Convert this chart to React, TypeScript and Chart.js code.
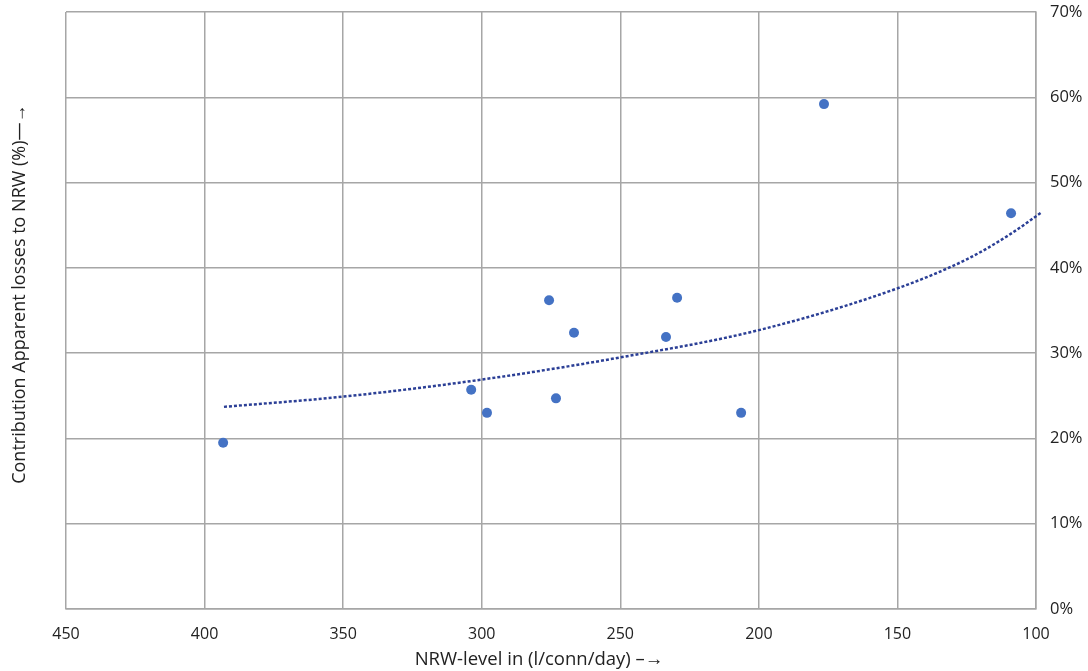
import React, { useEffect, useRef } from "react";
import { Chart, registerables } from "chart.js";

Chart.register(...registerables);

// Observed points: NRW level (l/conn/day) vs contribution of apparent losses (%)
const nrwLevels = [393.3, 303.8, 298.1, 275.7, 273.2, 266.7, 233.5, 229.5, 206.4, 176.5, 109];
const apparentShare = [19.5, 25.7, 23.0, 36.2, 24.7, 32.4, 31.9, 36.5, 23.0, 59.2, 46.4];

// Trend line
const trendX = [393, 350, 300, 250, 200, 150, 125, 110, 98];
const trendY = [23.7, 24.9, 26.9, 29.5, 32.7, 37.6, 41.0, 43.8, 46.5];

const xTicks = [450, 400, 350, 300, 250, 200, 150, 100];
const yTicks = [0, 10, 20, 30, 40, 50, 60, 70];

const xTitle = "NRW-level in (l/conn/day) –→     ";
const yTitle = "       Contribution Apparent losses to NRW (%)—→";

export default function App() {
  const ref = useRef<HTMLCanvasElement | null>(null);

  useEffect(() => {
    if (!ref.current) return;
    const font = "'Open Sans', 'Noto Sans', sans-serif";
    const gridColor = "#a6a6a6";
    const chart = new Chart(ref.current, {
      type: "scatter",
      data: {
        datasets: [
          {
            type: "line",
            label: "Trend",
            data: trendX.map((x, i) => ({ x, y: trendY[i] })),
            borderColor: "#2b3f96",
            borderWidth: 2.5,
            borderDash: [3, 2],
            pointRadius: 0,
            tension: 0.4,
            cubicInterpolationMode: "monotone",
            fill: false,
            clip: 10,
            yAxisID: "y",
          } as any,
          {
            label: "Points",
            data: nrwLevels.map((x, i) => ({ x, y: apparentShare[i] })),
            backgroundColor: "#4472c4",
            borderColor: "#4472c4",
            borderWidth: 0,
            pointRadius: 5,
            yAxisID: "y",
          },
        ],
      },
      options: {
        animation: false,
        responsive: false,
        maintainAspectRatio: false,
        layout: { padding: { top: 12, right: 0, left: 0, bottom: 0 } },
        plugins: {
          legend: { display: false },
          tooltip: { enabled: false },
        },
        scales: {
          x: {
            type: "linear",
            min: 100,
            max: 450,
            reverse: true,
            afterBuildTicks: (s: any) => {
              s.ticks = xTicks.map((v) => ({ value: v }));
            },
            afterFit: (s: any) => {
              s.height = 62;
              s.paddingLeft = 0;
              s.paddingRight = 0;
            },
            grid: {
              color: gridColor,
              lineWidth: 1.5,
              drawTicks: false,
            },
            border: { color: gridColor, width: 1.5 },
            ticks: {
              padding: 16,
              color: "#222",
              font: { family: font, size: 16 },
              maxRotation: 0,
            },
            title: {
              display: true,
              text: xTitle,
              color: "#222",
              font: { family: font, size: 18.5 },
              padding: { top: 0, bottom: 0 },
            },
          },
          y: {
            type: "linear",
            position: "right",
            min: 0,
            max: 70,
            afterBuildTicks: (s: any) => {
              s.ticks = yTicks.map((v) => ({ value: v }));
            },
            afterFit: (s: any) => {
              s.width = 52;
              s.paddingTop = 0;
              s.paddingBottom = 0;
            },
            grid: {
              color: gridColor,
              lineWidth: 1.5,
              drawTicks: false,
            },
            border: { color: gridColor, width: 1.5 },
            ticks: {
              padding: 14,
              color: "#222",
              font: { family: font, size: 16.5 },
              callback: (v: any) => v + "%",
            },
          },
          yLeft: {
            type: "linear",
            position: "left",
            min: 0,
            max: 70,
            afterFit: (s: any) => {
              s.width = 66;
              s.paddingTop = 0;
              s.paddingBottom = 0;
            },
            grid: { display: false, drawTicks: false },
            border: { display: false },
            ticks: { display: false },
            title: {
              display: true,
              text: yTitle,
              color: "#222",
              font: { family: font, size: 18 },
              padding: { top: 9, bottom: 0 },
            },
          },
        },
      },
    });
    return () => chart.destroy();
  }, []);

  return (
    <div style={{ position: "fixed", left: 0, top: 0, width: 1088, height: 671, background: "#fff" }}>
      <canvas ref={ref} width={1088} height={671} style={{ width: 1088, height: 671, display: "block" }} />
    </div>
  );
}
